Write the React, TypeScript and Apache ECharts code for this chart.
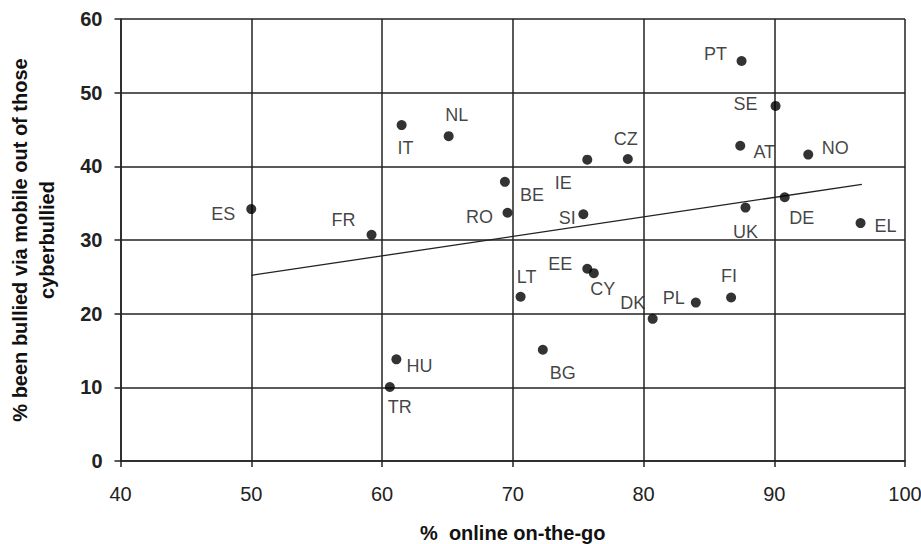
import React, { useEffect, useRef } from "react";
import * as echarts from "echarts";

const countries = ["ES", "FR", "IT", "NL", "BE", "RO", "IE", "CZ", "SI", "PT", "SE", "AT", "NO", "UK", "DE", "EL", "HU", "TR", "LT", "EE", "CY", "DK", "PL", "FI", "BG"];
const onlineOnTheGo = [50.0, 59.2, 61.5, 65.1, 69.4, 69.6, 75.7, 78.8, 75.4, 87.5, 90.1, 87.4, 92.6, 87.8, 90.8, 96.6, 61.1, 60.6, 70.6, 75.7, 76.2, 80.7, 84.0, 86.7, 72.3];
const bulliedViaMobile = [34.2, 30.7, 45.6, 44.1, 37.9, 33.7, 40.9, 41.0, 33.5, 54.3, 48.2, 42.8, 41.6, 34.4, 35.8, 32.3, 13.8, 10.05, 22.3, 26.1, 25.5, 19.3, 21.5, 22.2, 15.1];
const trendX = [50.0, 96.7];
const trendY = [25.2, 37.55];
const xTicks = [40, 50, 60, 70, 80, 90, 100];
const yTicks = [0, 10, 20, 30, 40, 50, 60];

// label placement (style): pixel offsets of each country label from its dot
const labelOffsets: Record<string, [number, number]> = {
  ES: [-28, 5], FR: [-28, -15], IT: [4, 23], NL: [8, -21], BE: [27, 13], RO: [-28, 4],
  IE: [-24, 23], CZ: [-2, -20], SI: [-16, 4], PT: [-26, -7], SE: [-30, -2], AT: [24, 6],
  NO: [27, -7], UK: [0, 24], DE: [17, 21], EL: [25, 3], HU: [23, 7], TR: [10, 20],
  LT: [6, -20], EE: [-27, -5], CY: [9, 16], DK: [-20, -16], PL: [-22, -5], FI: [-2, -21], BG: [20, 23],
};

const FONT = "'Liberation Sans', Arial, sans-serif";

export default function App() {
  const ref = useRef<HTMLDivElement>(null);
  useEffect(() => {
    if (!ref.current) return;
    const chart = echarts.init(ref.current, undefined, { renderer: "svg" });
    const points = countries.map((c, i) => ({
      value: [onlineOnTheGo[i], bulliedViaMobile[i]],
      name: c,
      label: {
        show: true,
        position: "inside",
        offset: labelOffsets[c] || [0, 0],
        formatter: c,
        color: "#111",
        fontSize: 18,
        fontFamily: FONT,
      },
    }));
    chart.setOption({
      animation: false,
      backgroundColor: "#fff",
      grid: { left: 120.5, right: 16, top: 19, bottom: 83, containLabel: false, outerBoundsMode: "none" },
      xAxis: {
        type: "value",
        min: xTicks[0],
        max: xTicks[xTicks.length - 1],
        interval: 10,
        name: "%  online on-the-go",
        nameLocation: "middle",
        nameGap: 62,
        nameTextStyle: { fontSize: 20, fontWeight: "bold", color: "#111", fontFamily: FONT },
        axisLine: { show: true, onZero: false, lineStyle: { color: "#222", width: 1.5 } },
        axisTick: { show: true, length: 6, lineStyle: { color: "#222", width: 1.5 } },
        axisLabel: { fontSize: 20, color: "#222", margin: 23, fontFamily: FONT },
        splitLine: { show: true, lineStyle: { color: "#222", width: 1.5 } },
      },
      yAxis: {
        type: "value",
        min: yTicks[0],
        max: yTicks[yTicks.length - 1],
        interval: 10,
        name: "% been bullied via mobile out of those\ncyberbullied",
        nameLocation: "middle",
        nameGap: 60,
        nameRotate: 90,
        nameTextStyle: { fontSize: 20, fontWeight: "bold", color: "#111", fontFamily: FONT, lineHeight: 27, align: "center" },
        axisLine: { show: true, onZero: false, lineStyle: { color: "#222", width: 1.5 } },
        axisTick: { show: true, length: 6, lineStyle: { color: "#222", width: 1.5 } },
        axisLabel: { fontSize: 20, color: "#222", margin: 18, fontWeight: "bold", fontFamily: FONT },
        splitLine: { show: true, lineStyle: { color: "#222", width: 1.5 } },
      },
      series: [
        {
          type: "line",
          data: trendX.map((x, i) => [x, trendY[i]]),
          symbol: "none",
          lineStyle: { color: "#222", width: 1.3 },
          silent: true,
          z: 2,
        },
        {
          type: "scatter",
          data: points,
          symbol: "circle",
          symbolSize: 10,
          itemStyle: { color: "#000" },
          z: 3,
        },
      ],
    });
    return () => chart.dispose();
  }, []);
  return <div ref={ref} style={{ position: "absolute", left: 0, top: 0, width: 921, height: 544 }} />;
}
